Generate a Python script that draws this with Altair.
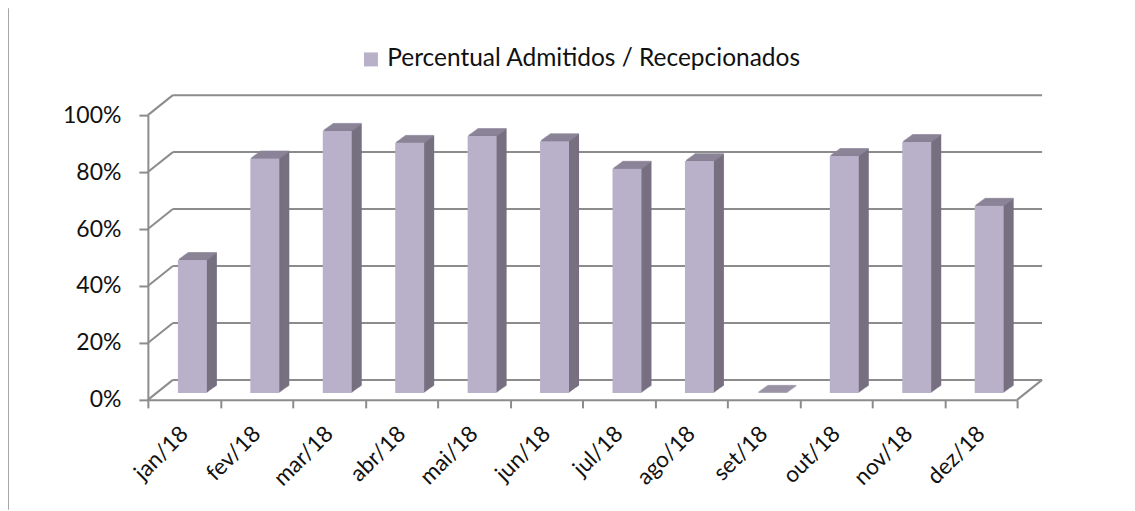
import altair as alt
import pandas as pd

months = ["jan/18", "fev/18", "mar/18", "abr/18", "mai/18", "jun/18",
          "jul/18", "ago/18", "set/18", "out/18", "nov/18", "dez/18"]
values = [0.467, 0.823, 0.920, 0.878, 0.902, 0.884, 0.787, 0.814, 0.0, 0.832, 0.881, 0.657]
series_name = "Percentual Admitidos / Recepcionados"
y_ticks = [0.0, 0.2, 0.4, 0.6, 0.8, 1.0]

df = pd.DataFrame({"mes": months, "valor": values, "serie": [series_name] * len(months)})
grid_df = pd.DataFrame({"valor": y_ticks})
floor_df = pd.DataFrame({"valor": [0.0]})

W, H = 870, 285
DEPTH_X, DEPTH_Y = 25, -20      # wall depth
BX, BY = 8.3, -7                # bar position inside depth
BAR_W = 29
FRONT = "#b9b0c9"
SIDE = "#777080"
TOP = "#8f889b"
GRID = "#8c8c8c"
FONT = "Lato"

x_scale = alt.Scale(paddingInner=0, paddingOuter=0)
x_axis = alt.Axis(title=None, labelAngle=-45, labelAlign="right",
                  labelBaseline="middle", labelFontSize=22.5,
                  labelFont=FONT, labelColor="#111111",
                  labelPadding=22, labelOffset=0,
                  tickBand="extent", tickSize=8, tickWidth=2,
                  tickColor=GRID, domainColor=GRID, domainWidth=2)
y_scale = alt.Scale(domain=[0, 1], nice=False)
y_axis = alt.Axis(title=None, values=y_ticks, format=".0%",
                  labelFontSize=23, labelFont=FONT, labelColor="#111111",
                  labelPadding=18, tickSize=9, tickWidth=2,
                  tickColor=GRID, domainColor=GRID, domainWidth=2,
                  grid=False)


def X():
    return alt.X("mes:N", sort=months, scale=x_scale, axis=x_axis)


def Y():
    return alt.Y("valor:Q", scale=y_scale, axis=y_axis)


# back wall gridlines
back_grid = alt.Chart(grid_df).mark_rule(
    color=GRID, strokeWidth=2, xOffset=DEPTH_X, x2Offset=DEPTH_X, yOffset=DEPTH_Y
).encode(y=Y(), x=alt.value(0), x2=alt.value(W))

# left wall diagonals
wall_diag = alt.Chart(grid_df).mark_rule(
    color=GRID, strokeWidth=2, y2Offset=DEPTH_Y
).encode(y=Y(), y2="valor:Q", x=alt.value(0), x2=alt.value(DEPTH_X))

# right floor diagonal
floor_diag = alt.Chart(floor_df).mark_rule(
    color=GRID, strokeWidth=2, y2Offset=DEPTH_Y
).encode(y=Y(), y2="valor:Q", x=alt.value(W), x2=alt.value(W + DEPTH_X))

# outer frame line on the left
frame = alt.Chart(floor_df).mark_rule(color="#a6a6a6", strokeWidth=2).encode(
    x=alt.value(-140), y=alt.value(-107), y2=alt.value(H + 110))

layers = [back_grid, wall_diag, floor_diag, frame]

# extruded depth of the bars (side + top faces)
N = 10
for k in range(N, 0, -1):
    dx = BX + k
    dy = BY - 0.72 * k
    side = alt.Chart(df).mark_bar(
        size=BAR_W, color=SIDE, xOffset=dx, x2Offset=dx, yOffset=dy, y2Offset=dy
    ).encode(x=X(), y=Y())
    top = alt.Chart(df).mark_tick(
        size=BAR_W, thickness=1.6, color=TOP, xOffset=dx, yOffset=dy
    ).encode(x=X(), y=Y())
    layers += [side, top]

front = alt.Chart(df).mark_bar(
    size=BAR_W, xOffset=BX, x2Offset=BX, yOffset=BY, y2Offset=BY
).encode(
    x=X(), y=Y(),
    color=alt.Color("serie:N", scale=alt.Scale(range=[FRONT]),
                    legend=alt.Legend(title=None, orient="none", legendX=211, legendY=-68,
                                      symbolType="square", symbolSize=196,
                                      symbolStrokeWidth=0, labelLimit=0,
                                      labelFontSize=24.5, labelFont=FONT,
                                      labelColor="#111111", labelOffset=4,
                                      padding=0))
)
layers.append(front)

chart = alt.layer(*layers).properties(
    width=W, height=H,
    autosize=alt.AutoSizeParams(type="none"),
    padding={"left": 140, "top": 107, "right": 110, "bottom": 110},
    background="white",
).configure_view(stroke=None)

chart.save("out.html", embed_options={"renderer": "svg", "actions": False})
